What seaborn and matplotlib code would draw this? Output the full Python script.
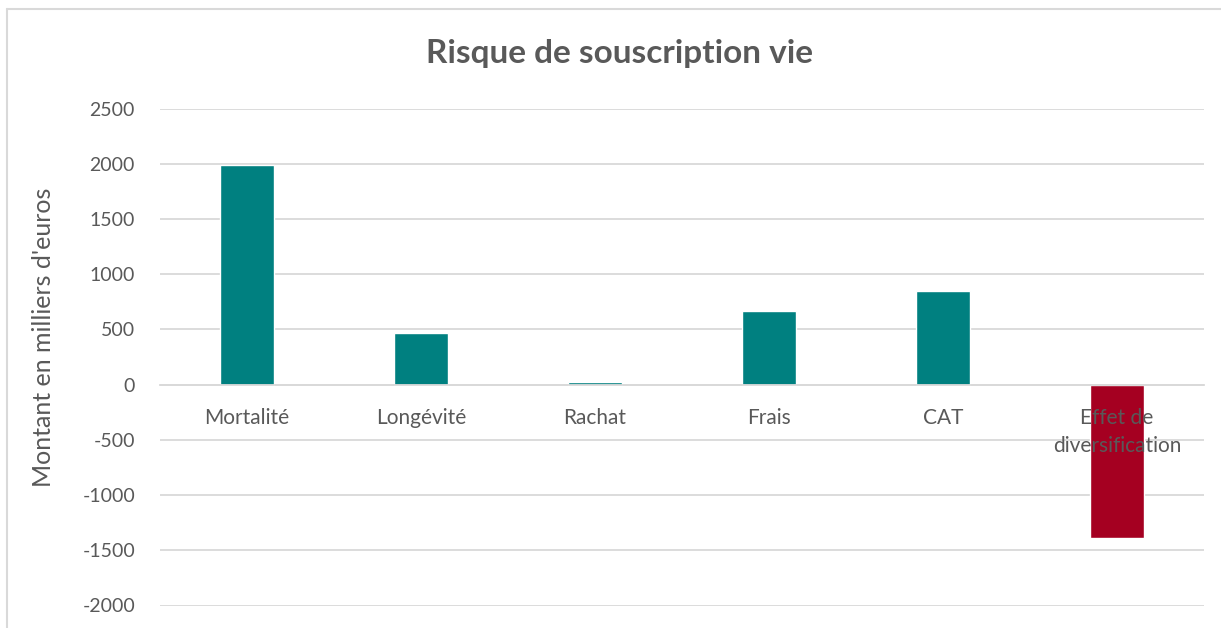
"""Risque de souscription vie - bar chart (SCR vie par sous-module)."""
import matplotlib
matplotlib.use("Agg")
import matplotlib.pyplot as plt
from matplotlib.lines import Line2D
import pandas as pd
import seaborn as sns

# ── data ────────────────────────────────────────────────────────────────────
categories = ["Mortalité", "Longévité", "Rachat", "Frais", "CAT",
              "Effet de\ndiversification"]
montants = [1992, 465, 25, 665, 850, -1385]
yticks = [-2000, -1500, -1000, -500, 0, 500, 1000, 1500, 2000, 2500]

TEAL = "#008080"
RED = "#A50021"
GREY_TXT = "#595959"
GRID = "#D9D9D9"

df = pd.DataFrame({"categorie": categories, "montant": montants})
df["signe"] = ["neg" if v < 0 else "pos" for v in df["montant"]]

sns.set_theme(style="white")
plt.rcParams["font.family"] = ["Lato", "DejaVu Sans"]
plt.rcParams["axes.unicode_minus"] = False

fig = plt.figure(figsize=(12.21, 6.28), dpi=100)
ax = fig.add_axes([160 / 1221, 1 - 605.5 / 628, (1204 - 160) / 1221, (605.5 - 108.7) / 628])

sns.barplot(data=df, x="categorie", y="montant", hue="signe",
            palette={"pos": TEAL, "neg": RED}, width=0.316, saturation=1,
            dodge=False, legend=False, ax=ax, zorder=2)

ax.set_ylim(-2000, 2500)
ax.set_yticks(yticks)
ax.yaxis.grid(True, color=GRID, linewidth=1.3)
ax.xaxis.grid(False)

# labels des catégories juste sous l'axe zéro, par-dessus les barres
for side in ("top", "right", "left"):
    ax.spines[side].set_visible(False)
ax.spines["bottom"].set_position(("data", 0))
ax.spines["bottom"].set_color(GRID)
ax.spines["bottom"].set_linewidth(1.3)
ax.yaxis.set_zorder(0.5)
ax.xaxis.set_zorder(3)

ax.tick_params(axis="both", length=0, colors=GREY_TXT)
ax.tick_params(axis="x", pad=17, labelsize=15)
ax.tick_params(axis="y", pad=18, labelsize=14)
for lbl in ax.get_xticklabels():
    lbl.set_multialignment("center")
    lbl.set_linespacing(1.45)

ax.set_xlabel("")
ax.set_ylabel("Montant en milliers d'euros", fontsize=18, color=GREY_TXT)
ax.yaxis.set_label_coords(-0.1006, 0.54)

fig.text(620 / 1221, 1 - 53 / 628, "Risque de souscription vie",
         ha="center", va="center", fontsize=24, fontweight="bold", color=GREY_TXT)

# cadre du graphique (bord haut et gauche visibles)
fig.add_artist(Line2D([7 / 1221, 1], [1 - 9 / 628, 1 - 9 / 628],
                      transform=fig.transFigure, color=GRID, linewidth=1.5))
fig.add_artist(Line2D([7 / 1221, 7 / 1221], [0, 1 - 9 / 628],
                      transform=fig.transFigure, color=GRID, linewidth=1.5))

fig.savefig("out.png", dpi=100, facecolor="white")
